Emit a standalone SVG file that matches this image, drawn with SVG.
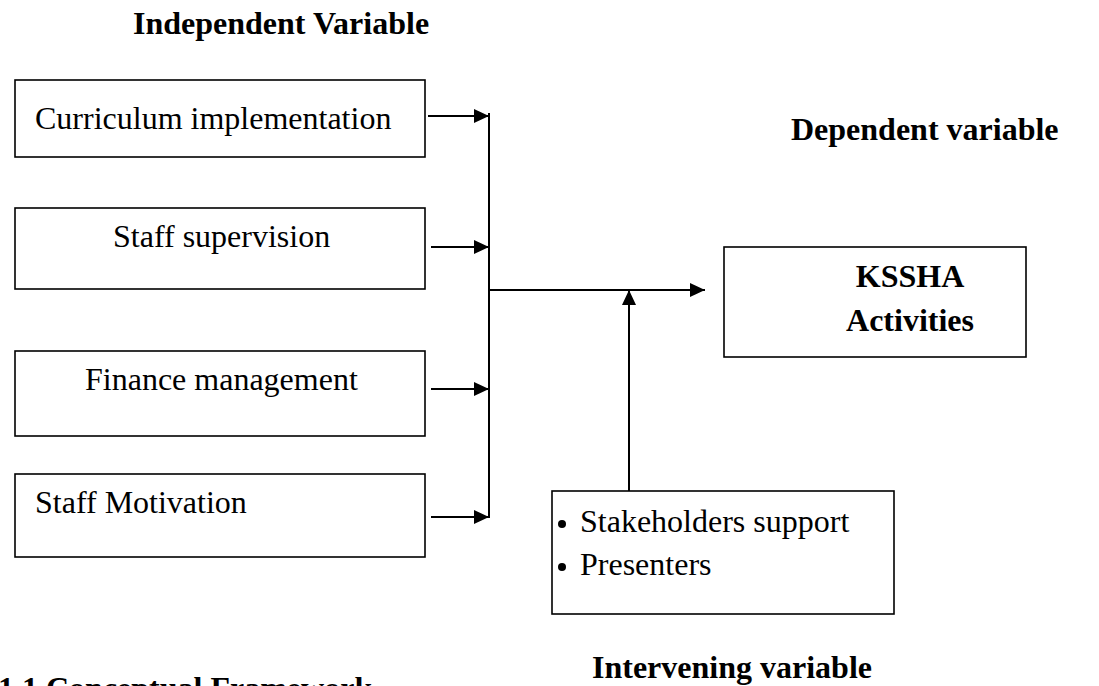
<svg xmlns="http://www.w3.org/2000/svg" width="1099" height="686" viewBox="0 0 1099 686">
<defs>
<style>
.box{fill:#fff;stroke:#000;stroke-width:1.6}
.t{font-family:"Liberation Serif","Times New Roman",serif;font-size:32px;fill:#000}
.b{font-weight:bold}
.c{stroke:#000;stroke-width:2;fill:none}
</style>
<marker id="ah" markerUnits="userSpaceOnUse" markerWidth="16" markerHeight="16" refX="15" refY="7" orient="auto">
<path d="M0,0 L15,7 L0,14 z" fill="#000"/>
</marker>
</defs>
<rect width="1099" height="686" fill="#fff"/>
<text class="t b" x="133" y="34">Independent Variable</text>
<text class="t b" x="791" y="140">Dependent variable</text>
<text class="t b" x="592" y="678">Intervening variable</text>
<text class="t b" x="-2" y="699">1.1 Conceptual Framework</text>
<g id="n1"><rect class="box" x="15" y="80" width="410" height="77"/><text class="t" x="35" y="129">Curriculum implementation</text></g>
<g id="n2"><rect class="box" x="15" y="208" width="410" height="81"/><text class="t" x="113" y="247">Staff supervision</text></g>
<g id="n3"><rect class="box" x="15" y="351" width="410" height="85"/><text class="t" x="85" y="390">Finance management</text></g>
<g id="n4"><rect class="box" x="15" y="474" width="410" height="83"/><text class="t" x="35" y="513">Staff Motivation</text></g>
<g id="n5"><rect class="box" x="724" y="247" width="302" height="110"/><text class="t b" x="910" y="287" text-anchor="middle">KSSHA</text><text class="t b" x="910" y="331" text-anchor="middle">Activities</text></g>
<g id="n6"><rect class="box" x="552" y="491" width="342" height="123"/>
<circle cx="562" cy="524" r="4"/><text class="t" x="580" y="532">Stakeholders support</text>
<circle cx="562" cy="567" r="4"/><text class="t" x="580" y="575">Presenters</text></g>
<g id="connectors">
<line class="c" x1="489" y1="113" x2="489" y2="518"/>
<line class="c" x1="428" y1="116" x2="489" y2="116" marker-end="url(#ah)"/>
<line class="c" x1="431" y1="247" x2="489" y2="247" marker-end="url(#ah)"/>
<line class="c" x1="431" y1="389" x2="489" y2="389" marker-end="url(#ah)"/>
<line class="c" x1="431" y1="517" x2="489" y2="517" marker-end="url(#ah)"/>
<line class="c" x1="489" y1="290" x2="705" y2="290" marker-end="url(#ah)"/>
<line class="c" x1="629" y1="491" x2="629" y2="290" marker-end="url(#ah)"/>
</g>
</svg>
